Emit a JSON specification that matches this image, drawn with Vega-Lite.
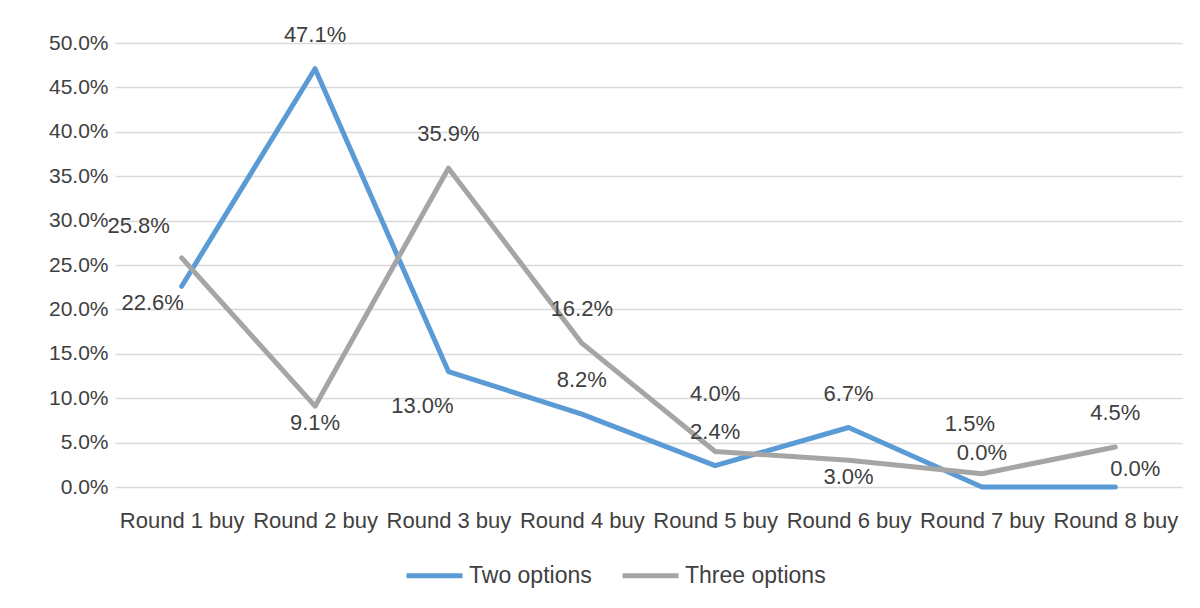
{
  "$schema": "https://vega.github.io/schema/vega-lite/v6.json",
  "width": 1067,
  "height": 444,
  "autosize": {"type": "none"},
  "padding": {"left": 115, "top": 43, "right": 18, "bottom": 121},
  "background": "white",
  "config": {
    "view": {"stroke": null},
    "font": "Liberation Sans",
    "text": {"font": "Liberation Sans", "fontSize": 22, "fill": "#404040"}
  },
  "data": {
    "values": [
      {"round": "Round 1 buy", "series": "Two options", "value": 0.226},
      {"round": "Round 2 buy", "series": "Two options", "value": 0.471},
      {"round": "Round 3 buy", "series": "Two options", "value": 0.130},
      {"round": "Round 4 buy", "series": "Two options", "value": 0.082},
      {"round": "Round 5 buy", "series": "Two options", "value": 0.024},
      {"round": "Round 6 buy", "series": "Two options", "value": 0.067},
      {"round": "Round 7 buy", "series": "Two options", "value": 0.0},
      {"round": "Round 8 buy", "series": "Two options", "value": 0.0},
      {"round": "Round 1 buy", "series": "Three options", "value": 0.258},
      {"round": "Round 2 buy", "series": "Three options", "value": 0.091},
      {"round": "Round 3 buy", "series": "Three options", "value": 0.359},
      {"round": "Round 4 buy", "series": "Three options", "value": 0.162},
      {"round": "Round 5 buy", "series": "Three options", "value": 0.040},
      {"round": "Round 6 buy", "series": "Three options", "value": 0.030},
      {"round": "Round 7 buy", "series": "Three options", "value": 0.015},
      {"round": "Round 8 buy", "series": "Three options", "value": 0.045}
    ]
  },
  "encoding": {
    "x": {
      "field": "round", "type": "nominal", "sort": null,
      "scale": {"paddingInner": 0, "paddingOuter": 0},
      "axis": {
        "title": null, "labelAngle": 0, "domain": false, "ticks": false,
        "labelFont": "Liberation Sans", "labelFontSize": 22, "labelColor": "#404040",
        "labelPadding": 23, "labelOverlap": false
      }
    },
    "y": {
      "field": "value", "type": "quantitative",
      "scale": {"domain": [0, 0.5], "nice": false},
      "axis": {
        "title": null, "format": ".1%", "values": [0, 0.05, 0.1, 0.15, 0.2, 0.25, 0.3, 0.35, 0.4, 0.45, 0.5],
        "domain": false, "ticks": false, "labelPadding": 7,
        "labelFont": "Liberation Sans", "labelFontSize": 21, "labelColor": "#404040",
        "gridColor": "#d9d9d9", "gridWidth": 1.5
      }
    }
  },
  "layer": [
    {
      "mark": {"type": "line", "strokeWidth": 5, "strokeJoin": "round", "strokeCap": "round"},
      "encoding": {
        "color": {
          "field": "series", "type": "nominal",
          "scale": {"domain": ["Two options", "Three options"], "range": ["#5B9BD5", "#A5A5A5"]},
          "legend": {
            "title": null, "orient": "none", "direction": "horizontal",
            "legendX": 289, "legendY": 502, "padding": 0,
            "symbolType": "stroke", "symbolSize": 3136, "symbolStrokeWidth": 5,
            "labelFont": "Liberation Sans", "labelFontSize": 23, "labelColor": "#404040",
            "labelOffset": 4, "columnPadding": 20
          }
        }
      }
    },
    {
      "transform": [{"filter": "(datum.series == 'Two options' && indexof(['Round 2 buy','Round 4 buy','Round 5 buy','Round 6 buy','Round 7 buy'], datum.round) >= 0) || (datum.series == 'Three options' && indexof(['Round 3 buy','Round 4 buy','Round 8 buy'], datum.round) >= 0)"}],
      "mark": {"type": "text", "dy": -34, "baseline": "middle"},
      "encoding": {"text": {"field": "value", "type": "quantitative", "format": ".1%"}}
    },
    {
      "transform": [{"filter": "datum.series == 'Three options' && (datum.round == 'Round 2 buy' || datum.round == 'Round 6 buy')"}],
      "mark": {"type": "text", "dy": 16.5, "baseline": "middle"},
      "encoding": {"text": {"field": "value", "type": "quantitative", "format": ".1%"}}
    },
    {
      "transform": [{"filter": "datum.series == 'Two options' && datum.round == 'Round 1 buy'"}],
      "mark": {"type": "text", "dx": -29, "dy": 17, "baseline": "middle"},
      "encoding": {"text": {"field": "value", "type": "quantitative", "format": ".1%"}}
    },
    {
      "transform": [{"filter": "datum.series == 'Three options' && datum.round == 'Round 1 buy'"}],
      "mark": {"type": "text", "dx": -43, "dy": -32, "baseline": "middle"},
      "encoding": {"text": {"field": "value", "type": "quantitative", "format": ".1%"}}
    },
    {
      "transform": [{"filter": "datum.series == 'Two options' && datum.round == 'Round 3 buy'"}],
      "mark": {"type": "text", "dx": -26, "dy": 34, "baseline": "middle"},
      "encoding": {"text": {"field": "value", "type": "quantitative", "format": ".1%"}}
    },
    {
      "transform": [{"filter": "datum.series == 'Three options' && datum.round == 'Round 5 buy'"}],
      "mark": {"type": "text", "dx": 0, "dy": -57, "baseline": "middle"},
      "encoding": {"text": {"field": "value", "type": "quantitative", "format": ".1%"}}
    },
    {
      "transform": [{"filter": "datum.series == 'Three options' && datum.round == 'Round 7 buy'"}],
      "mark": {"type": "text", "dx": -12, "dy": -50, "baseline": "middle"},
      "encoding": {"text": {"field": "value", "type": "quantitative", "format": ".1%"}}
    },
    {
      "transform": [{"filter": "datum.series == 'Two options' && datum.round == 'Round 8 buy'"}],
      "mark": {"type": "text", "dx": 20, "dy": -18, "baseline": "middle"},
      "encoding": {"text": {"field": "value", "type": "quantitative", "format": ".1%"}}
    }
  ]
}
